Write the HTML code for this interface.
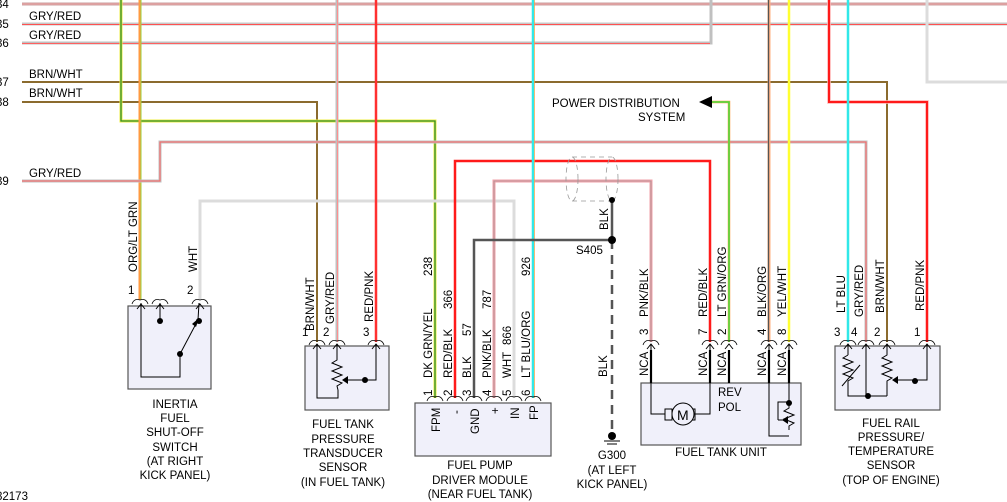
<!DOCTYPE html>
<html><head><meta charset="utf-8"><style>
body{margin:0;background:#fff;}
svg{display:block;font-family:"Liberation Sans",Arial,sans-serif;}
text{font-size:11.5px;fill:#000;}
</style></head><body>
<svg width="1007" height="502" viewBox="0 0 1007 502" xmlns="http://www.w3.org/2000/svg">
<defs>
<path id="cn" d="M-8 3 Q-6 -3 0 -1 Q6 -3 8 3" fill="none" stroke="#000" stroke-width="0.8"/>
</defs>
<g fill="none" stroke-linejoin="miter">
<polyline points="22,4 1007,4" stroke="#c8a0a0" stroke-width="3"/>
<polyline points="22,4 1007,4" stroke="#f0a0a0" stroke-width="1"/>
<polyline points="22,24 1007,24" stroke="#c8c8c8" stroke-width="3"/>
<polyline points="22,24.5 1007,24.5" stroke="#ff5050" stroke-width="1"/>
<polyline points="22,43 711,43 711,0" stroke="#c0c0c0" stroke-width="3"/>
<polyline points="22,43.5 710,43.5" stroke="#ff6060" stroke-width="1"/>
<polyline points="22,82 887,82 887,342" stroke="#8b6b2e" stroke-width="2"/>
<polyline points="22,102 317,102 317,342" stroke="#8b6b2e" stroke-width="2"/>
<polyline points="121,0 121,121 435,121 435,398" stroke="#eeee40" stroke-width="3"/>
<polyline points="121,0 121,121 435,121 435,398" stroke="#2e8b2e" stroke-width="1.3"/>
<polyline points="140,0 140,300" stroke="#ff9a40" stroke-width="3"/>
<polyline points="141,0 141,300" stroke="#80e040" stroke-width="0.8"/>
<polyline points="22,181 160,181 160,142 866,142 866,342" stroke="#c0c0c0" stroke-width="3"/>
<polyline points="22,181 160,181 160,142 866,142 866,342" stroke="#ff6060" stroke-width="1"/>
<polyline points="200,300 200,201 514,201 514,398" stroke="#dcdcdc" stroke-width="3"/>
<polyline points="337,0 337,342" stroke="#c0c0c0" stroke-width="3"/>
<polyline points="337.5,0 337.5,342" stroke="#ff9090" stroke-width="1"/>
<polyline points="376,0 376,342" stroke="#ff3030" stroke-width="2.5"/>
<polyline points="455,398 455,161 710,161 710,342" stroke="#ff1a1a" stroke-width="2.5"/>
<polyline points="494,398 494,181 651,181 651,342" stroke="#f0a0a8" stroke-width="3"/>
<polyline points="494,398 494,181 651,181 651,342" stroke="#909090" stroke-width="0.6"/>
<polyline points="533,0 533,398" stroke="#30e8e8" stroke-width="2.5"/>
<polyline points="534.5,0 534.5,398" stroke="#ffa040" stroke-width="0.7"/>
<polyline points="474,398 474,240 612,240" stroke="#555" stroke-width="2.5"/>
<polyline points="612,200 612,240" stroke="#555" stroke-width="2.5"/>
<polyline points="612,240 612,436" stroke="#555" stroke-width="2.5" stroke-dasharray="9,6"/>
<g stroke="#999" stroke-width="0.8" stroke-dasharray="5,4">
<ellipse cx="572" cy="179" rx="6" ry="22"/>
<ellipse cx="612" cy="179" rx="6" ry="22"/>
<line x1="572" y1="157" x2="612" y2="157"/>
<line x1="572" y1="201" x2="612" y2="201"/>
</g>
<polyline points="712,102 729,102 729,342" stroke="#ff9a40" stroke-width="2.5"/>
<polyline points="712,102 729,102 729,342" stroke="#40e040" stroke-width="1.5"/>
<polyline points="769,0 769,342" stroke="#ffb080" stroke-width="3"/>
<polyline points="768.5,0 768.5,342" stroke="#555" stroke-width="1.3"/>
<polyline points="789,0 789,342" stroke="#ffff30" stroke-width="2.5"/>
<polyline points="829,0 829,102 927,102 927,342" stroke="#ffb0b0" stroke-width="3.5"/>
<polyline points="829,0 829,102 927,102 927,342" stroke="#ff1a1a" stroke-width="2"/>
<polyline points="848,0 848,342" stroke="#30e8e8" stroke-width="2.5"/>
<polyline points="927,0 927,82 1007,82" stroke="#dcdcdc" stroke-width="3"/>
</g>
<polygon points="699,102 712,96 712,108" fill="#000"/>
<circle cx="612" cy="200" r="3" fill="#000"/>
<circle cx="612" cy="240" r="4" fill="#000"/>
<circle cx="612" cy="436" r="4" fill="#000"/>
<g stroke="#000" stroke-width="1"><line x1="604" y1="441" x2="620" y2="441"/><line x1="607" y1="444" x2="617" y2="444"/></g>

<g fill="#f0f0fa" stroke="#555" stroke-width="1.2">
<rect x="128" y="306" width="83" height="83"/>
<rect x="305" y="346" width="84" height="64"/>
<rect x="415" y="403" width="136" height="53"/>
<rect x="641" y="383" width="160" height="62"/>
<rect x="835" y="346" width="105" height="64"/>
</g>
<g>
<use href="#cn" x="140" y="301"/><use href="#cn" x="160" y="301"/><use href="#cn" x="200" y="301"/>
<use href="#cn" x="317" y="342"/><use href="#cn" x="337" y="342"/><use href="#cn" x="376" y="342"/>
<use href="#cn" x="435" y="398"/><use href="#cn" x="455" y="398"/><use href="#cn" x="474" y="398"/><use href="#cn" x="494" y="398"/><use href="#cn" x="514" y="398"/><use href="#cn" x="533" y="398"/>
<use href="#cn" x="651" y="342"/><use href="#cn" x="710" y="342"/><use href="#cn" x="729" y="342"/><use href="#cn" x="769" y="342"/><use href="#cn" x="789" y="342"/>
<use href="#cn" x="848" y="342"/><use href="#cn" x="866" y="342"/><use href="#cn" x="887" y="342"/><use href="#cn" x="927" y="342"/>
</g>
<g fill="none" stroke="#000" stroke-width="1">
<polyline points="141,303 141,377 180,377 180,354 198,320 199,303"/>
<line x1="160" y1="303" x2="160" y2="321"/>
<path d="M137 309 L141 304 L145 309 M156 309 L160 304 L164 309 M196 309 L200 304 L204 309"/>
<polyline points="317,344 317,398 338,398 338,390"/>
<path d="M337 344 L337 360 l-5 3 l10 4 l-10 4 l10 4 l-10 4 l10 4 l-5 3 L338 390"/>
<polyline points="376,344 376,380 345,380"/>
<path d="M313 349 L317 344 L321 349 M333 349 L337 344 L341 349 M372 349 L376 344 L380 349"/>
<polyline points="651,344 651,414 665,414"/><polyline points="695,414 710,414 710,344"/>
<rect x="665" y="409" width="7" height="11"/><rect x="688" y="409" width="7" height="11"/>
<circle cx="683" cy="414" r="11" fill="#f0f0fa"/>
<polyline points="769,344 769,436 789,436"/>
<polyline points="789,344 789,402 778,402 778,420"/>
<path d="M789 402 l0 6 l-5 3 l10 4 l-10 4 l10 4 l-5 3 l0 4"/>
<line x1="778" y1="420" x2="786" y2="420"/>
<path d="M647 349 L651 344 L655 349 M706 349 L710 344 L714 349 M725 349 L729 344 L733 349 M765 349 L769 344 L773 349 M785 349 L789 344 L793 349"/>
<polyline points="848,344 848,355"/>
<path d="M848 355 l-5 3 l10 4 l-10 4 l10 4 l-10 4 l10 4 l-5 3 L848 396 L887 396"/>
<line x1="842" y1="386" x2="860" y2="365"/>
<line x1="866" y1="344" x2="866" y2="396"/>
<path d="M887 344 L887 355 l-5 3 l10 4 l-10 4 l10 4 l-10 4 l10 4 l-5 3 L887 396"/>
<polyline points="927,344 927,380 893,380"/>
<path d="M844 349 L848 344 L852 349 M862 349 L866 344 L870 349 M883 349 L887 344 L891 349 M923 349 L927 344 L931 349"/>
</g>
<g stroke-width="2.2" stroke="#000">
<line x1="651" y1="350" x2="651" y2="383"/><line x1="710" y1="350" x2="710" y2="383"/><line x1="729" y1="350" x2="729" y2="383"/><line x1="769" y1="350" x2="769" y2="383"/><line x1="789" y1="350" x2="789" y2="383"/>
</g>
<g fill="#000">
<circle cx="160" cy="321" r="3"/><circle cx="199" cy="321" r="3"/><circle cx="180" cy="354" r="3"/>
<polygon points="199,318 192,324 196,327"/>
<circle cx="365" cy="380" r="3"/><polygon points="342,380 348,376 348,384"/>
<circle cx="789" cy="403" r="3"/><polygon points="782,420 788,416 788,424"/>
<circle cx="868" cy="396" r="3"/><circle cx="915" cy="381" r="3"/><polygon points="892,380 898,376 898,384"/>
</g>
<text x="677" y="420" style="font-size:14px">M</text>

<text x="-4" y="8">34</text>
<text x="29" y="20">GRY/RED</text><text x="-4" y="28">35</text>
<text x="29" y="39">GRY/RED</text><text x="-4" y="47">36</text>
<text x="-4" y="86">37</text><text x="29" y="78">BRN/WHT</text>
<text x="-4" y="106">38</text><text x="29" y="97">BRN/WHT</text>
<text x="-4" y="185">39</text><text x="29" y="177">GRY/RED</text>
<text x="-4" y="500">82173</text>

<text x="552" y="107">POWER DISTRIBUTION</text>
<text x="638" y="121">SYSTEM</text>
<text x="576" y="254">S405</text>

<g>
<text transform="translate(137,272) rotate(-90)">ORG/LT GRN</text>
<text transform="translate(197,272) rotate(-90)">WHT</text>
<text transform="translate(314,331) rotate(-90)">BRN/WHT</text>
<text transform="translate(334,324) rotate(-90)">GRY/RED</text>
<text transform="translate(373,322) rotate(-90)">RED/PNK</text>
<text transform="translate(432,378) rotate(-90)">DK GRN/YEL</text>
<text transform="translate(432,276) rotate(-90)">238</text>
<text transform="translate(452,378) rotate(-90)">RED/BLK</text>
<text transform="translate(452,309) rotate(-90)">366</text>
<text transform="translate(471,378) rotate(-90)">BLK</text>
<text transform="translate(471,336) rotate(-90)">57</text>
<text transform="translate(491,378) rotate(-90)">PNK/BLK</text>
<text transform="translate(491,309) rotate(-90)">787</text>
<text transform="translate(511,378) rotate(-90)">WHT</text>
<text transform="translate(511,345) rotate(-90)">866</text>
<text transform="translate(530,378) rotate(-90)">LT BLU/ORG</text>
<text transform="translate(530,276) rotate(-90)">926</text>
<text transform="translate(608,230) rotate(-90)">BLK</text>
<text transform="translate(607,377) rotate(-90)">BLK</text>
<text transform="translate(648,317) rotate(-90)">PNK/BLK</text>
<text transform="translate(707,317) rotate(-90)">RED/BLK</text>
<text transform="translate(726,317) rotate(-90)">LT GRN/ORG</text>
<text transform="translate(766,317) rotate(-90)">BLK/ORG</text>
<text transform="translate(786,317) rotate(-90)">YEL/WHT</text>
<text transform="translate(845,313) rotate(-90)">LT BLU</text>
<text transform="translate(863,317) rotate(-90)">GRY/RED</text>
<text transform="translate(884,313) rotate(-90)">BRN/WHT</text>
<text transform="translate(924,311) rotate(-90)">RED/PNK</text>
<text transform="translate(648,376) rotate(-90)">NCA</text>
<text transform="translate(707,376) rotate(-90)">NCA</text>
<text transform="translate(726,376) rotate(-90)">NCA</text>
<text transform="translate(766,376) rotate(-90)">NCA</text>
<text transform="translate(786,376) rotate(-90)">NCA</text>
<text transform="translate(432,396) rotate(-90)">1</text>
<text transform="translate(452,396) rotate(-90)">2</text>
<text transform="translate(471,396) rotate(-90)">3</text>
<text transform="translate(491,396) rotate(-90)">4</text>
<text transform="translate(511,396) rotate(-90)">5</text>
<text transform="translate(530,396) rotate(-90)">6</text>
<text transform="translate(648,335) rotate(-90)">3</text>
<text transform="translate(707,335) rotate(-90)">7</text>
<text transform="translate(726,335) rotate(-90)">2</text>
<text transform="translate(766,335) rotate(-90)">4</text>
<text transform="translate(786,335) rotate(-90)">8</text>
<text transform="translate(440,432) rotate(-90)">FPM</text>
<text transform="translate(460,414) rotate(-90)">-</text>
<text transform="translate(479,434) rotate(-90)">GND</text>
<text transform="translate(499,414) rotate(-90)">+</text>
<text transform="translate(519,419) rotate(-90)">IN</text>
<text transform="translate(538,420) rotate(-90)">FP</text>
</g>
<text x="128" y="294">1</text><text x="187" y="294">2</text>
<text x="302" y="336" fill="#a07020">1</text><text x="323" y="336">2</text><text x="363" y="336">3</text>
<text x="834" y="336">3</text><text x="851" y="336">4</text><text x="874" y="336">2</text><text x="914" y="336">1</text>
<text x="718" y="396">REV</text><text x="718" y="411">POL</text>

<g text-anchor="middle">
<text x="175" y="408">INERTIA</text><text x="175" y="422">FUEL</text><text x="175" y="436">SHUT-OFF</text><text x="175" y="451">SWITCH</text><text x="175" y="465">(AT RIGHT</text><text x="175" y="479">KICK PANEL)</text>
<text x="343" y="428">FUEL TANK</text><text x="343" y="443">PRESSURE</text><text x="343" y="457">TRANSDUCER</text><text x="343" y="471">SENSOR</text><text x="343" y="486">(IN FUEL TANK)</text>
<text x="480" y="469">FUEL PUMP</text><text x="480" y="484">DRIVER MODULE</text><text x="480" y="498">(NEAR FUEL TANK)</text>
<text x="612" y="459">G300</text><text x="612" y="474">(AT LEFT</text><text x="612" y="488">KICK PANEL)</text>
<text x="721" y="456">FUEL TANK UNIT</text>
<text x="891" y="427">FUEL RAIL</text><text x="891" y="441">PRESSURE/</text><text x="891" y="455">TEMPERATURE</text><text x="891" y="469">SENSOR</text><text x="891" y="484">(TOP OF ENGINE)</text>
</g>
</svg>
</body></html>
